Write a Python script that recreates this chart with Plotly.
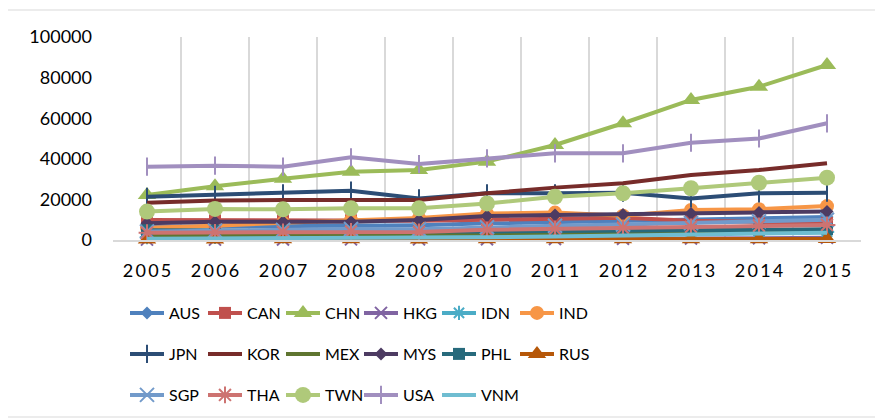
import plotly.graph_objects as go

years = ["2005", "2006", "2007", "2008", "2009", "2010", "2011", "2012", "2013", "2014", "2015"]
year_labels = ["2\u20090\u20090\u20095", "2\u20090\u20090\u20096", "2\u20090\u20090\u20097", "2\u20090\u20090\u20098",
               "2\u20090\u20090\u20099", "2\u20090\u20091\u20090", "2\u20090\u20091\u20091", "2\u20090\u20091\u20092",
               "2\u20090\u20091\u20093", "2\u20090\u20091\u20094", "2\u20090\u20091\u20095"]

AUS = [6500, 6800, 7000, 7400, 7300, 8200, 8800, 9300, 10000, 10600, 11300]
CAN = [9800, 9700, 9600, 9700, 9500, 10000, 10500, 11000, 9500, 9000, 8400]
CHN = [22200, 26500, 30200, 33600, 34500, 38600, 46800, 57500, 69000, 75500, 86200]
HKG = [200, 200, 250, 300, 300, 400, 500, 600, 700, 900, 1100]
IDN = [1500, 1600, 1800, 2000, 2000, 2400, 2800, 3000, 3300, 3600, 4000]
IND = [6000, 7000, 8500, 9800, 10800, 13000, 13500, 12000, 14800, 15200, 16700]
JPN = [21300, 22200, 23000, 24300, 20500, 23000, 23000, 23300, 20500, 23000, 23300]
KOR = [18400, 19400, 19700, 19700, 19700, 23000, 25800, 27900, 32000, 34500, 37800]
MEX = [2200, 2400, 2600, 2800, 2700, 3000, 3300, 3600, 3900, 4300, 4800]
MYS = [8200, 9000, 9000, 9000, 9800, 11800, 12300, 12600, 13100, 13600, 14000]
PHL = [4800, 4600, 4400, 4200, 4000, 4200, 4400, 4600, 4800, 5000, 5300]
RUS = [300, 300, 400, 400, 300, 400, 400, 400, 400, 400, 500]
SGP = [4200, 4600, 5000, 5400, 5300, 6300, 7000, 7600, 8400, 9200, 10000]
THA = [3600, 3800, 4000, 4200, 4000, 5000, 5500, 6000, 6500, 7000, 7400]
TWN = [14000, 15300, 15100, 15600, 15600, 18000, 21300, 23000, 25500, 28200, 30700]
USA = [36100, 36600, 36100, 40700, 37400, 40200, 42700, 42700, 47900, 50000, 57500]
VNM = [600, 700, 800, 1000, 1100, 1400, 1700, 2100, 2500, 3000, 3600]

# name, values, color, symbol, marker size, legend id
series = [
    ("AUS", AUS, "#4F81BD", "diamond", 10, "legend"),
    ("CAN", CAN, "#C0504D", "square", 12, "legend"),
    ("CHN", CHN, "#9BBB59", "triangle-up", 16, "legend"),
    ("HKG", HKG, "#8064A2", "x-thin-open", 12, "legend"),
    ("IDN", IDN, "#4BACC6", "asterisk-open", 12, "legend"),
    ("IND", IND, "#F79646", "circle", 14, "legend"),
    ("JPN", JPN, "#2C4D75", "line-ns-open", 13, "legend2"),
    ("KOR", KOR, "#772C2A", None, 0, "legend2"),
    ("MEX", MEX, "#5F7530", None, 0, "legend2"),
    ("MYS", MYS, "#4D3B62", "diamond", 10, "legend2"),
    ("PHL", PHL, "#276A7C", "square", 12, "legend2"),
    ("RUS", RUS, "#B65708", "triangle-up", 16, "legend2"),
    ("SGP", SGP, "#729ACA", "x-thin-open", 14, "legend3"),
    ("THA", THA, "#CD7371", "asterisk-open", 14, "legend3"),
    ("TWN", TWN, "#AFC97A", "circle", 16, "legend3"),
    ("USA", USA, "#A18FBF", "line-ns-open", 13, "legend3"),
    ("VNM", VNM, "#6FBDD1", None, 0, "legend3"),
]
last_in_row = {"IND", "RUS", "VNM"}

fig = go.Figure()
for name, vals, color, sym, size, leg in series:
    if sym is None:
        mode = "lines"
        marker = None
    else:
        mode = "lines+markers"
        open_sym = sym.endswith("open")
        marker = dict(symbol=sym, size=size, color=color,
                      line=dict(color=color, width=2 if open_sym else 0))
    fig.add_trace(go.Scatter(
        x=years, y=vals, name=name, mode=mode,
        line=dict(color=color, width=4),
        marker=marker, legend=leg, cliponaxis=False,
        legendwidth=60 if name in last_in_row else None,
    ))

# The page body has an 8px default margin, so the figure is drawn 8px in
# from the top-left of the window; window-pixel targets are used below.
OFF = 8
WIN_W, WIN_H = 883, 419
PL, PR, PT, PB = 113, 861, 37, 240   # plot area in window pixels
W, H = WIN_W - OFF, WIN_H - OFF
pw, ph = PR - PL, PB - PT

def px_x(x):
    return (x - PL) / pw

def px_y(y):
    return (PB - y) / ph

leg_common = dict(orientation="h", xanchor="left", yanchor="middle",
                  font=dict(family="Lato", size=16, color="#000"),
                  itemwidth=34, entrywidth=29, entrywidthmode="pixels",
                  bgcolor="rgba(0,0,0,0)", tracegroupgap=0)

fig.update_layout(
    width=W, height=H,
    margin=dict(l=PL - OFF, r=WIN_W - PR, t=PT - OFF, b=WIN_H - PB, autoexpand=False),
    paper_bgcolor="white", plot_bgcolor="white",
    font=dict(family="Lato", size=18, color="#000"),
    showlegend=True,
    legend=dict(x=px_x(125), y=px_y(313), **leg_common),
    legend2=dict(x=px_x(125), y=px_y(354), **leg_common),
    legend3=dict(x=px_x(125), y=px_y(395), **leg_common),
    xaxis=dict(type="category", tickson="boundaries", showgrid=True,
               gridcolor="#D9D9D9", gridwidth=1.5, showline=True,
               linecolor="#D9D9D9", linewidth=1.5, ticks="",
               tickvals=years, ticktext=year_labels, ticklabelstandoff=14,
               tickfont=dict(family="Lato", size=18, color="#000"),
               range=[-0.5, 10.5], fixedrange=True),
    yaxis=dict(range=[0, 100000], dtick=20000, tickformat="d",
               showgrid=False, zeroline=False, showline=False, ticks="",
               ticklabelstandoff=20,
               tickfont=dict(family="Lato", size=18, color="#000"),
               fixedrange=True),
    shapes=[dict(type="rect", xref="paper", yref="paper",
                 x0=px_x(6), x1=px_x(881), y0=px_y(417), y1=px_y(10),
                 line=dict(color="#D9D9D9", width=1), layer="below")],
)

fig.write_html("out.html")
